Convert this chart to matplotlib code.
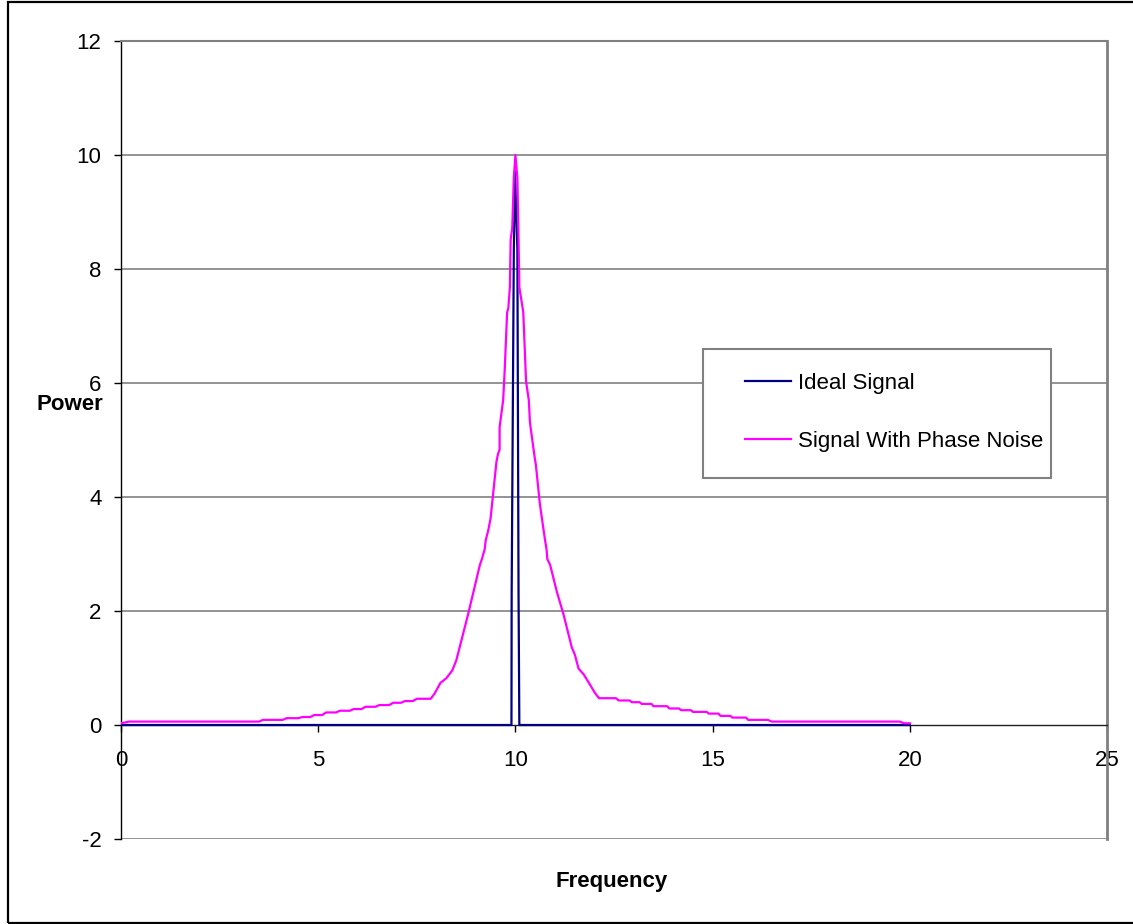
import matplotlib
matplotlib.use("Agg")
import matplotlib.pyplot as plt
from matplotlib.patches import Rectangle

plt.rcParams['font.family'] = ['Liberation Sans', 'DejaVu Sans']
plt.rcParams['axes.unicode_minus'] = False

# Ideal signal
ideal_x = [0, 9.9, 9.905, 9.96, 9.99, 10.05, 10.08, 10.1, 20]
ideal_y = [0, 0, 2.27, 8.35, 9.7, 8.35, 2.27, 0, 0]

# Signal with phase noise
noise_x = [0, 0.2, 3.5, 3.6, 4.1, 4.2, 4.5, 4.6, 4.8, 4.9, 5.1, 5.2, 5.45, 5.55,
           5.8, 5.9, 6.1, 6.2, 6.45, 6.55, 6.8, 6.9, 7.1, 7.2, 7.4, 7.5, 7.85,
           7.95, 8.1, 8.25, 8.4, 8.5, 8.8, 9.1, 9.15, 9.22, 9.25, 9.31, 9.37,
           9.43, 9.52, 9.56, 9.6, 9.6, 9.69, 9.73, 9.79, 9.82, 9.86, 9.88, 9.92,
           9.96, 10.0,
           10.05, 10.08, 10.1, 10.2, 10.27, 10.34, 10.37, 10.45, 10.49, 10.52,
           10.62, 10.75, 10.79, 10.81, 10.88, 11.05, 11.22, 11.43, 11.51, 11.6,
           11.73, 12.02, 12.12, 12.55, 12.62, 12.9, 12.95, 13.15, 13.2, 13.45,
           13.5, 13.85, 13.9, 14.15, 14.2, 14.45, 14.5, 14.85, 14.9, 15.15,
           15.2, 15.45, 15.5, 15.85, 15.9, 16.4, 16.5, 19.75, 19.85, 20.0]
noise_y = [0.03, 0.06, 0.06, 0.09, 0.09, 0.12, 0.12, 0.14, 0.14, 0.175, 0.175,
           0.22, 0.22, 0.25, 0.25, 0.28, 0.28, 0.32, 0.32, 0.35, 0.35, 0.39,
           0.39, 0.42, 0.42, 0.46, 0.46, 0.55, 0.74, 0.82, 0.96, 1.13, 1.94,
           2.81, 2.91, 3.08, 3.25, 3.41, 3.62, 4.02, 4.62, 4.76, 4.83, 5.23,
           5.7, 6.24, 7.24, 7.31, 7.68, 8.52, 8.72, 9.6, 10.0,
           9.6, 8.52, 7.68, 7.24, 6.03, 5.7, 5.3, 4.89, 4.69, 4.56, 3.88, 3.25,
           3.08, 2.91, 2.81, 2.34, 1.94, 1.36, 1.23, 0.99, 0.89, 0.56, 0.47,
           0.47, 0.43, 0.43, 0.40, 0.40, 0.37, 0.37, 0.33, 0.33, 0.29, 0.29,
           0.26, 0.26, 0.23, 0.23, 0.2, 0.2, 0.16, 0.16, 0.13, 0.13, 0.09,
           0.09, 0.06, 0.06, 0.03, 0.03]

x_ticks = [0, 5, 10, 15, 20, 25]
y_ticks = [-2, 0, 2, 4, 6, 8, 10, 12]

W, H = 1133, 924
fig = plt.figure(figsize=(W / 100, H / 100), dpi=100)
L, R, T, B = 121, 1107, 41, 839
ax = fig.add_axes([L / W, (H - B) / H, (R - L) / W, (B - T) / H])

grid_c = '#808080'
ax.set_xlim(0, 25)
ax.set_ylim(-2, 12)
ax.set_xticks(x_ticks)
ax.set_yticks(y_ticks)
for yv in y_ticks:
    if yv != 0:
        ax.axhline(yv, color=grid_c, lw=1.2, zorder=1)

ax.spines['bottom'].set_position(('data', 0))
ax.spines['bottom'].set_color('#202020')
ax.spines['bottom'].set_linewidth(1.0)
ax.spines['left'].set_color('black')
ax.spines['left'].set_linewidth(1.0)
ax.spines['top'].set_color(grid_c)
ax.spines['top'].set_linewidth(1.5)
ax.spines['right'].set_color(grid_c)
ax.spines['right'].set_linewidth(2.0)

ax.tick_params(axis='x', direction='out', length=5, width=1, pad=13, labelsize=16)
ax.tick_params(axis='y', direction='out', length=5, width=1, pad=9, labelsize=16)

l1, = ax.plot(ideal_x, ideal_y, color='#000080', lw=1.6, zorder=3, label='Ideal Signal')
l2, = ax.plot(noise_x, noise_y, color='#FF00FF', lw=1.6, zorder=4, label='Signal With Phase Noise')

# legend box
bx0, bx1 = (703 - L) / (R - L), (1051 - L) / (R - L)
by0, by1 = (B - 478) / (B - T), (B - 349) / (B - T)
ax.add_patch(Rectangle((bx0, by0), bx1 - bx0, by1 - by0, transform=ax.transAxes,
                       facecolor='white', edgecolor=grid_c, lw=1.5, zorder=5))
leg = ax.legend(handles=[l1, l2], loc='center left',
                bbox_to_anchor=((745 - L) / (R - L), (B - 412.5) / (B - T)),
                frameon=False, fontsize=16, handlelength=2.07, handletextpad=0.3,
                labelspacing=1.65, borderpad=0, borderaxespad=0)
leg.set_zorder(6)

fig.text(70 / W, 1 - 410 / H, 'Power', fontsize=16, fontweight='bold',
         ha='center', va='baseline')
fig.text(612 / W, 1 - 882 / H, 'Frequency', fontsize=16, fontweight='bold',
         ha='center', va='center')

# outer chart frame
fig.add_artist(Rectangle((8 / W, 1 - 923 / H), 1.5, (923 - 2) / H,
                         transform=fig.transFigure, fill=False,
                         edgecolor='black', lw=1.6))

fig.savefig('out.png', dpi=100)
